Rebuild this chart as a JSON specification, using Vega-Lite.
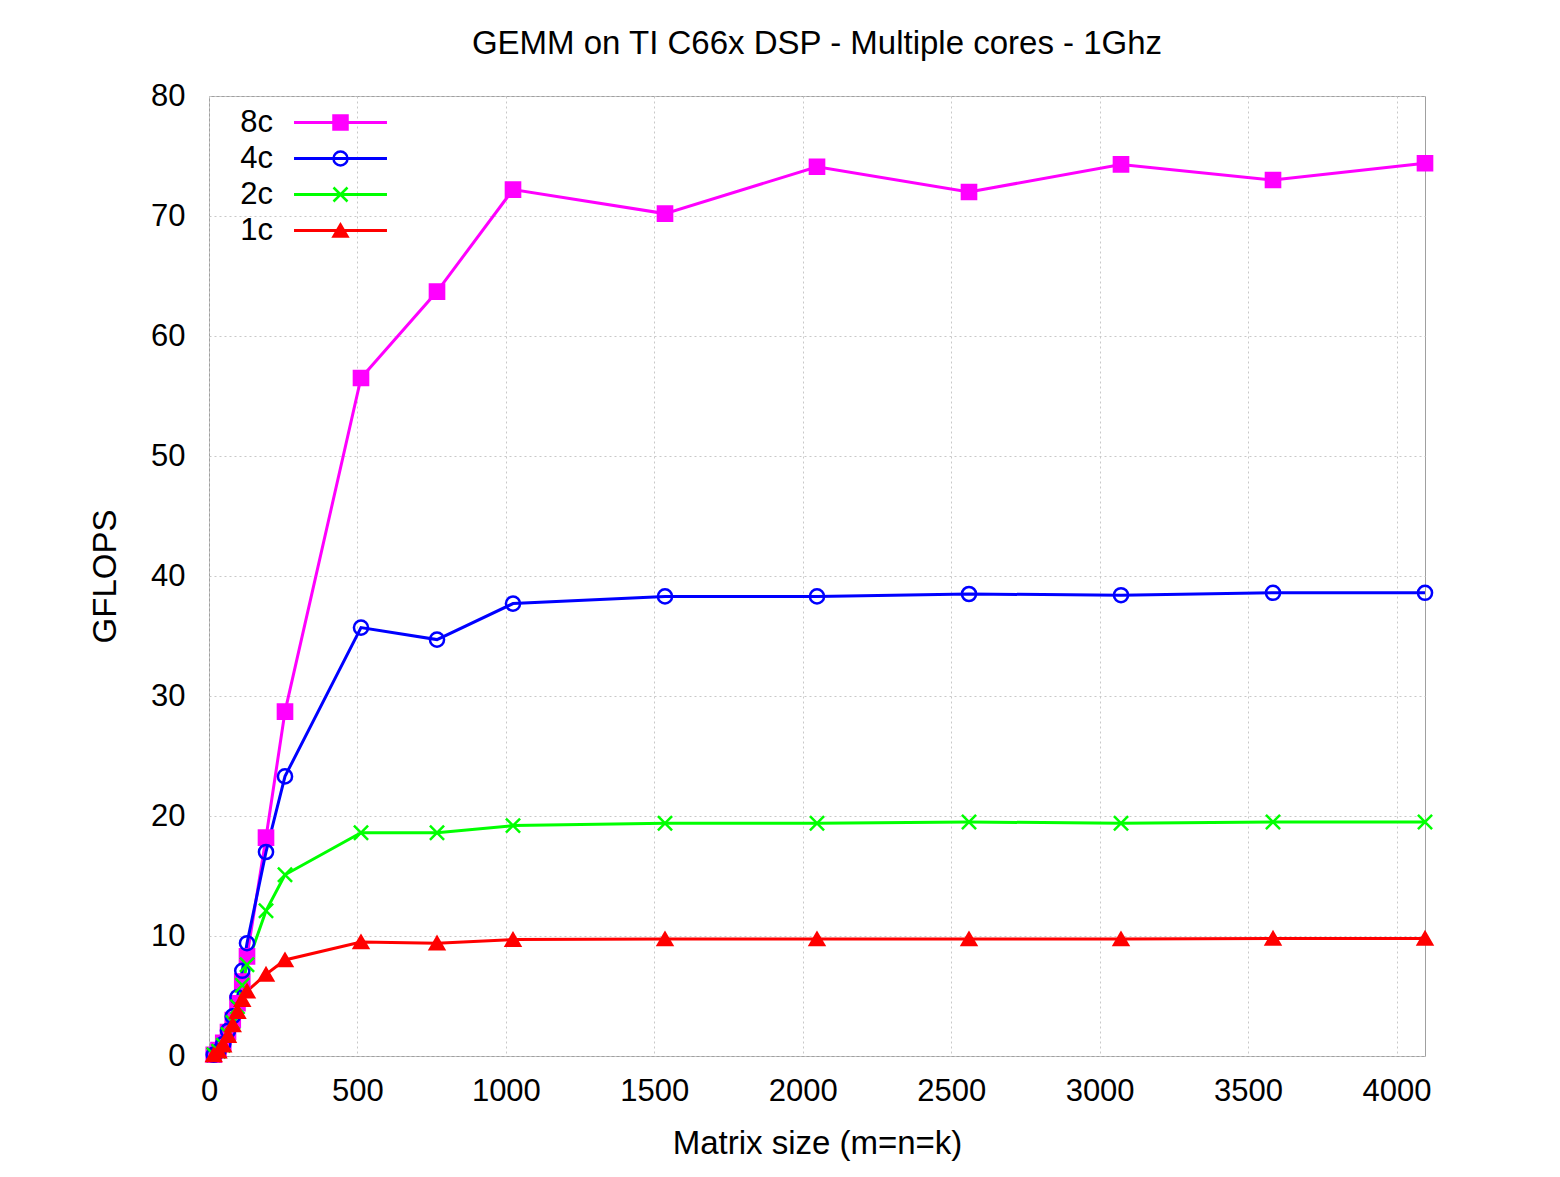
{
  "$schema": "https://vega.github.io/schema/vega-lite/v6.json",
  "width": 1216,
  "height": 960,
  "autosize": {"type": "none"},
  "padding": {"left": 209, "top": 96, "right": 135, "bottom": 121},
  "background": "white",
  "title": {
    "text": "GEMM on TI C66x DSP - Multiple cores - 1Ghz",
    "font": "Liberation Sans",
    "fontSize": 33,
    "fontWeight": "normal",
    "color": "black",
    "anchor": "middle",
    "offset": 19
  },
  "config": {
    "view": {"stroke": "#a0a0a0", "strokeWidth": 1},
    "axis": {
      "labelFont": "Liberation Sans",
      "labelFontSize": 31,
      "labelColor": "black",
      "titleFont": "Liberation Sans",
      "titleFontSize": 33,
      "titleFontWeight": "normal",
      "titleColor": "black",
      "grid": true,
      "gridColor": "#c8c8c8",
      "gridDash": [2, 3],
      "gridWidth": 1,
      "domain": false,
      "ticks": false
    },
    "legend": {
      "title": null,
      "orient": "none",
      "legendX": 116,
      "legendY": 11,
      "padding": 0,
      "labelFont": "Liberation Sans",
      "labelFontSize": 31,
      "labelColor": "black",
      "labelAlign": "right",
      "labelOffset": -83,
      "symbolSize": 196,
      "rowPadding": 4
    }
  },
  "data": {
    "values": [
      {"n": 16, "series": "8c", "gflops": 0.1},
      {"n": 32, "series": "8c", "gflops": 0.5},
      {"n": 48, "series": "8c", "gflops": 1.1},
      {"n": 64, "series": "8c", "gflops": 2.0},
      {"n": 80, "series": "8c", "gflops": 3.0},
      {"n": 96, "series": "8c", "gflops": 4.4},
      {"n": 112, "series": "8c", "gflops": 6.2},
      {"n": 128, "series": "8c", "gflops": 8.3},
      {"n": 192, "series": "8c", "gflops": 18.2},
      {"n": 256, "series": "8c", "gflops": 28.7},
      {"n": 512, "series": "8c", "gflops": 56.5},
      {"n": 768, "series": "8c", "gflops": 63.7},
      {"n": 1024, "series": "8c", "gflops": 72.2},
      {"n": 1536, "series": "8c", "gflops": 70.2},
      {"n": 2048, "series": "8c", "gflops": 74.1},
      {"n": 2560, "series": "8c", "gflops": 72.0},
      {"n": 3072, "series": "8c", "gflops": 74.3},
      {"n": 3584, "series": "8c", "gflops": 73.0},
      {"n": 4096, "series": "8c", "gflops": 74.4},
      {"n": 16, "series": "4c", "gflops": 0.1},
      {"n": 32, "series": "4c", "gflops": 0.4},
      {"n": 48, "series": "4c", "gflops": 1.0},
      {"n": 64, "series": "4c", "gflops": 2.1},
      {"n": 80, "series": "4c", "gflops": 3.3},
      {"n": 96, "series": "4c", "gflops": 4.9},
      {"n": 112, "series": "4c", "gflops": 7.1},
      {"n": 128, "series": "4c", "gflops": 9.4},
      {"n": 192, "series": "4c", "gflops": 17.0},
      {"n": 256, "series": "4c", "gflops": 23.3},
      {"n": 512, "series": "4c", "gflops": 35.7},
      {"n": 768, "series": "4c", "gflops": 34.7},
      {"n": 1024, "series": "4c", "gflops": 37.7},
      {"n": 1536, "series": "4c", "gflops": 38.3},
      {"n": 2048, "series": "4c", "gflops": 38.3},
      {"n": 2560, "series": "4c", "gflops": 38.5},
      {"n": 3072, "series": "4c", "gflops": 38.4},
      {"n": 3584, "series": "4c", "gflops": 38.6},
      {"n": 4096, "series": "4c", "gflops": 38.6},
      {"n": 16, "series": "2c", "gflops": 0.1},
      {"n": 32, "series": "2c", "gflops": 0.4},
      {"n": 48, "series": "2c", "gflops": 0.9},
      {"n": 64, "series": "2c", "gflops": 1.8},
      {"n": 80, "series": "2c", "gflops": 2.8},
      {"n": 96, "series": "2c", "gflops": 4.1},
      {"n": 112, "series": "2c", "gflops": 5.9},
      {"n": 128, "series": "2c", "gflops": 7.6},
      {"n": 192, "series": "2c", "gflops": 12.1},
      {"n": 256, "series": "2c", "gflops": 15.1},
      {"n": 512, "series": "2c", "gflops": 18.6},
      {"n": 768, "series": "2c", "gflops": 18.6},
      {"n": 1024, "series": "2c", "gflops": 19.2},
      {"n": 1536, "series": "2c", "gflops": 19.4},
      {"n": 2048, "series": "2c", "gflops": 19.4},
      {"n": 2560, "series": "2c", "gflops": 19.5},
      {"n": 3072, "series": "2c", "gflops": 19.4},
      {"n": 3584, "series": "2c", "gflops": 19.5},
      {"n": 4096, "series": "2c", "gflops": 19.5},
      {"n": 16, "series": "1c", "gflops": 0.1},
      {"n": 32, "series": "1c", "gflops": 0.4},
      {"n": 48, "series": "1c", "gflops": 0.9},
      {"n": 64, "series": "1c", "gflops": 1.7},
      {"n": 80, "series": "1c", "gflops": 2.6},
      {"n": 96, "series": "1c", "gflops": 3.7},
      {"n": 112, "series": "1c", "gflops": 4.7},
      {"n": 128, "series": "1c", "gflops": 5.4},
      {"n": 192, "series": "1c", "gflops": 6.8},
      {"n": 256, "series": "1c", "gflops": 8.0},
      {"n": 512, "series": "1c", "gflops": 9.5},
      {"n": 768, "series": "1c", "gflops": 9.4},
      {"n": 1024, "series": "1c", "gflops": 9.7},
      {"n": 1536, "series": "1c", "gflops": 9.75},
      {"n": 2048, "series": "1c", "gflops": 9.75},
      {"n": 2560, "series": "1c", "gflops": 9.75},
      {"n": 3072, "series": "1c", "gflops": 9.75},
      {"n": 3584, "series": "1c", "gflops": 9.8},
      {"n": 4096, "series": "1c", "gflops": 9.8}
    ]
  },
  "encoding": {
    "x": {
      "field": "n",
      "type": "quantitative",
      "title": "Matrix size (m=n=k)",
      "scale": {"domain": [0, 4096], "nice": false, "zero": false},
      "axis": {
        "values": [0, 500, 1000, 1500, 2000, 2500, 3000, 3500, 4000],
        "labelPadding": 20,
        "titlePadding": 21,
        "format": "d",
        "labelFlush": false
      }
    },
    "y": {
      "field": "gflops",
      "type": "quantitative",
      "title": "GFLOPS",
      "scale": {"domain": [0, 80], "nice": false},
      "axis": {
        "values": [0, 10, 20, 30, 40, 50, 60, 70, 80],
        "labelPadding": 24,
        "titlePadding": 28,
        "labelFlush": false
      }
    }
  },
  "layer": [
    {
      "mark": {"type": "line", "strokeWidth": 3},
      "encoding": {
        "color": {
          "field": "series",
          "type": "nominal",
          "sort": ["8c", "4c", "2c", "1c"],
          "scale": {"range": ["#ff00ff", "#0000ff", "#00ff00", "#ff0000"]},
          "legend": {
            "symbolType": "M-6.64,0H6.64",
            "symbolStrokeWidth": 3
          }
        }
      }
    },
    {
      "mark": {"type": "point", "strokeWidth": 2.5, "opacity": 1},
      "encoding": {
        "stroke": {
          "field": "series",
          "type": "nominal",
          "scale": {"domain": ["8c", "4c", "2c", "1c"], "range": ["#ff00ff", "#0000ff", "#00ff00", "#ff0000"]},
          "legend": {"labelOpacity": 0, "symbolStrokeWidth": 2.5}
        },
        "shape": {
          "field": "series",
          "type": "nominal",
          "scale": {"domain": ["8c", "4c", "2c", "1c"], "range": ["square", "circle", "M-1,-1L1,1M-1,1L1,-1", "triangle-up"]},
          "legend": {"labelOpacity": 0, "symbolStrokeWidth": 2.5}
        },
        "fill": {
          "field": "series",
          "type": "nominal",
          "scale": {"domain": ["8c", "4c", "2c", "1c"], "range": ["#ff00ff", "transparent", "transparent", "#ff0000"]},
          "legend": {"labelOpacity": 0, "symbolStrokeWidth": 2.5}
        },
        "size": {"value": 200}
      }
    }
  ]
}
